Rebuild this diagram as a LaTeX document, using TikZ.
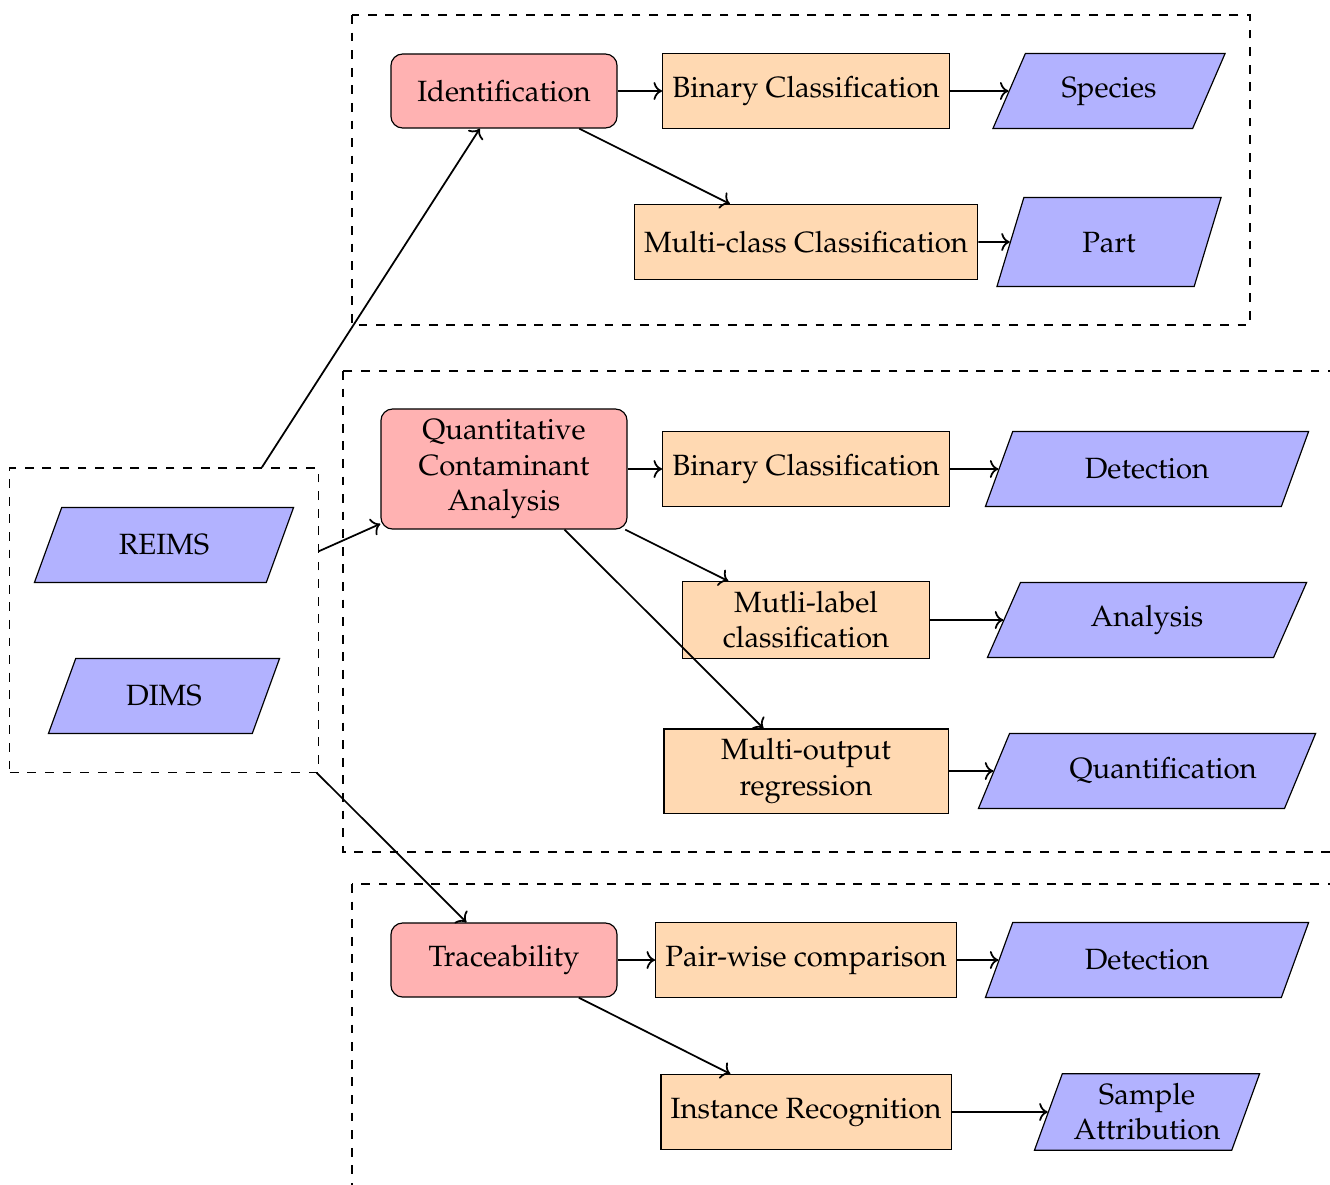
\documentclass[tikz,border=0pt]{standalone}
\usepackage[T1]{fontenc}
\usepackage{mathpazo}
\usepackage{tikz}
\usetikzlibrary{positioning,arrows.meta,shapes.geometric,fit,calc}

\begin{document}
\begin{tikzpicture}[
  x=0.012cm, y=-0.012cm,
  task/.style={rectangle, draw, fill=red!30, rounded corners, minimum width=2.712cm, minimum height=0.888cm, align=center},
  method/.style={rectangle, draw, fill=orange!30, minimum height=0.9cm, align=center},
  data/.style={trapezium, trapezium left angle=56, trapezium right angle=124, trapezium stretches body, draw, fill=blue!30, minimum height=0.9cm, align=center},
  group/.style={draw, dashed},
  link/.style={->, semithick}
]
\useasboundingbox (0,0) rectangle (1330,1184);

% input data (REIMS / DIMS)
\node[data, minimum width=3.108cm] (reims) at (164,545) {REIMS};
\node[data, minimum width=2.772cm] (dims) at (164,696) {DIMS};
\node[group, minimum width=3.696cm, minimum height=3.648cm, inner sep=0pt] (inputs) at (164,620) {};

% identification
\draw[group] (352,15) rectangle (1250,325);
\node[task] (ident) at (504,91) {Identification};
\node[method] (bin1) at (806,91) {Binary Classification};
\node[data, minimum width=2.784cm] (species) at (1109,91) {Species};
\node[method] (multiclass) at (806,242) {Multi-class Classification};
\node[data, minimum width=2.688cm, minimum height=1.068cm] (part) at (1109,242) {Part};

% quantitative contaminant analysis
\draw[group] (343,371) rectangle (1370,852);
\node[task, minimum width=2.952cm, minimum height=1.44cm] (qca) at (504,469) {Quantitative\\Contaminant\\Analysis};
\node[method] (bin2) at (806,469) {Binary Classification};
\node[data, minimum width=3.876cm] (detect1) at (1147,469) {Detection};
\node[method, minimum width=2.964cm] (multilabel) at (806,620) {Mutli-label\\classification};
\node[data, minimum width=3.828cm] (analysis) at (1147,620) {Analysis};
\node[method, minimum width=3.408cm] (multiout) at (806,771) {Multi-output\\regression};
\node[data, minimum width=4.044cm] (quant) at (1147,771) {\hspace*{11pt}Quantification};

% traceability
\draw[group] (352,884) rectangle (1370,1220);
\node[task] (trace) at (504,960) {Traceability};
\node[method] (pairwise) at (806,960) {Pair-wise comparison};
\node[data, minimum width=3.876cm] (detect2) at (1147,960) {Detection};
\node[method] (instance) at (806,1112) {Instance Recognition};
\node[data, minimum width=2.7cm, trapezium left angle=70, trapezium right angle=110] (sample) at (1147,1112) {Sample\\Attribution};

% connectors
\draw[link] (inputs) -- (ident);
\draw[link] (inputs) -- (qca);
\draw[link] (inputs) -- (trace);
\draw[link] (ident) -- (bin1);
\draw[link] (bin1) -- (species);
\draw[link] (ident) -- (multiclass);
\draw[link] (multiclass) -- (part);
\draw[link] (qca) -- (bin2);
\draw[link] (bin2) -- (detect1);
\draw[link] (qca) -- (multilabel);
\draw[link] (multilabel) -- (analysis);
\draw[link] (qca) -- (multiout);
\draw[link] (multiout) -- (quant);
\draw[link] (trace) -- (pairwise);
\draw[link] (pairwise) -- (detect2);
\draw[link] (trace) -- (instance);
\draw[link] (instance) -- (sample);
\end{tikzpicture}
\end{document}
